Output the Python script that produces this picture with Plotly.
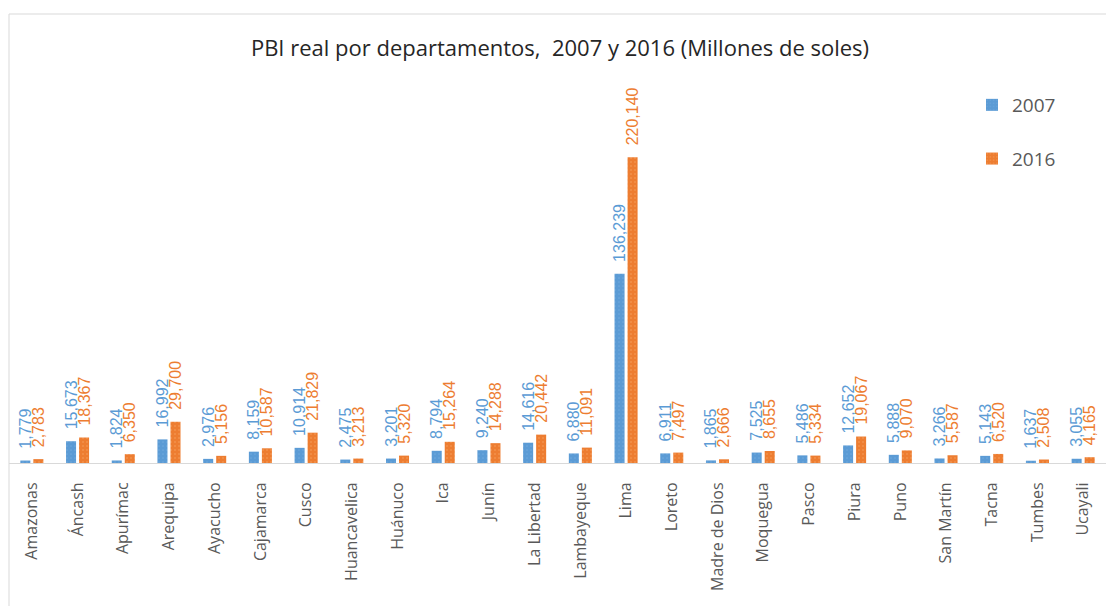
import plotly.graph_objects as go

# Regional real GDP (millions of soles)
departamentos = [
    "Amazonas", "Áncash", "Apurímac", "Arequipa", "Ayacucho", "Cajamarca",
    "Cusco", "Huancavelica", "Huánuco", "Ica", "Junín", "La Libertad",
    "Lambayeque", "Lima", "Loreto", "Madre de Dios", "Moquegua", "Pasco",
    "Piura", "Puno", "San Martín", "Tacna", "Tumbes", "Ucayali",
]
pbi_2007 = [
    1779, 15673, 1824, 16992, 2976, 8159, 10914, 2475, 3201, 8794, 9240, 14616,
    6880, 136239, 6911, 1865, 7525, 5486, 12652, 5888, 3266, 5143, 1637, 3055,
]
pbi_2016 = [
    2783, 18367, 6350, 29700, 5156, 10587, 21829, 3213, 5320, 15264, 14288, 20442,
    11091, 220140, 7497, 2666, 8655, 5334, 19067, 9070, 5587, 6520, 2508, 4165,
]

BLUE = "#5B9BD5"
ORANGE = "#ED7D31"
LABEL_FONT = "Liberation Sans"
NBSP = "\u00a0"

fig = go.Figure()
fig.add_trace(go.Bar(
    x=departamentos, y=pbi_2007, name="2007",
    marker=dict(color=BLUE, line=dict(width=0),
                pattern=dict(shape=".", fgcolor="#7FB3E3", size=4, solidity=0.15)),
    texttemplate=NBSP * 2 + "%{y:,}", textposition="outside", textangle=-90,
    textfont=dict(family=LABEL_FONT, size=16, color=BLUE),
    constraintext="none", cliponaxis=False,
    legendgroup="a",
))
fig.add_trace(go.Bar(
    x=departamentos, y=pbi_2016, name="2016",
    marker=dict(color=ORANGE, line=dict(width=0),
                pattern=dict(shape=".", fgcolor="#F7A661", size=4, solidity=0.2)),
    texttemplate=NBSP * 2 + "%{y:,}", textposition="outside", textangle=-90,
    textfont=dict(family=LABEL_FONT, size=16, color=ORANGE),
    constraintext="none", cliponaxis=False,
    legendgroup="b",
))

W, H = 1106, 606
L, R, T, B = 9, 0, 80, 143
plot_h = H - T - B
units_per_px = 720

fig.update_layout(
    width=W, height=H,
    margin=dict(l=L, r=R, t=T, b=B, pad=0),
    paper_bgcolor="white", plot_bgcolor="white",
    barmode="group", bargap=0.43, bargroupgap=0.23,
    title=dict(
        text="PBI real por departamentos,  2007 y 2016 (Millones de soles)",
        font=dict(family="Open Sans", size=22, color="#262626"),
        x=560 / W, xref="container", xanchor="center",
        y=1 - 48 / H, yref="container", yanchor="middle",
    ),
    legend=dict(
        x=(972 - L) / (W - L - R), y=(463 - 86) / plot_h,
        xanchor="left", yanchor="top",
        bgcolor="rgba(0,0,0,0)",
        font=dict(family="Open Sans", size=19, color="#595959"),
        tracegroupgap=26, itemwidth=30,
    ),
    xaxis=dict(
        showline=True, linecolor="#D9D9D9", linewidth=1,
        ticks="", tickangle=-90, ticklabelstandoff=12,
        tickfont=dict(family="Open Sans", size=16, color="#595959"),
        showgrid=False, fixedrange=True,
    ),
    yaxis=dict(
        visible=False, range=[0, plot_h * units_per_px],
        showgrid=False, zeroline=False,
    ),
    shapes=[dict(
        type="rect", xref="paper", yref="paper",
        x0=0, x1=1.02, y0=-0.5, y1=(463 - 14) / plot_h,
        line=dict(color="#D9D9D9", width=1), fillcolor="rgba(0,0,0,0)",
        layer="below",
    )],
)

fig.write_html("out.html")
